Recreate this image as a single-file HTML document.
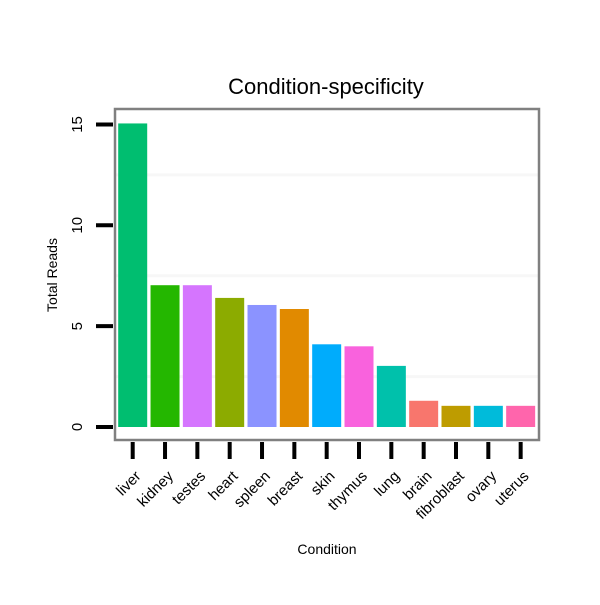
<!DOCTYPE html>
<html><head><meta charset="utf-8">
<style>
body{margin:0;background:#fff;width:600px;height:600px;overflow:hidden}
svg{font-family:"Liberation Sans",sans-serif}
</style></head>
<body>
<svg id="chart" width="600" height="600">
<text x="326" y="94" text-anchor="middle" font-size="22">Condition-specificity</text>
<g id="grid"></g>
<g id="bars"></g>
<rect x="115" y="109" width="424" height="331" fill="none" stroke="#808080" stroke-width="2.5"/>
<g id="yaxis"></g>
<g id="xaxis"></g>
<text x="327" y="554" text-anchor="middle" font-size="14">Condition</text>
<text transform="translate(57,275) rotate(-90)" text-anchor="middle" font-size="14">Total Reads</text>
</svg>
<script>
const categories=["liver","kidney","testes","heart","spleen","breast","skin","thymus","lung","brain","fibroblast","ovary","uterus"];
const values=[15.05,7.03,7.03,6.4,6.05,5.85,4.1,4.0,3.03,1.3,1.05,1.05,1.05];
const colors=["#00BE70","#24B700","#D575FE","#8CAB00","#8B93FF","#E18A00","#00ACFC","#F962DD","#00C1AB","#F8766D","#BE9C00","#00BBDA","#FF65AC"];
const yTicks=[0,5,10,15];
const yMinor=[2.5,7.5,12.5];
const NS="http://www.w3.org/2000/svg";
function y(v){return 427-v*20.17;}
function x(i){return 132.7+i*32.33;}
const grid=document.getElementById('grid'),bars=document.getElementById('bars'),ya=document.getElementById('yaxis'),xa=document.getElementById('xaxis');
yMinor.forEach(v=>{const l=document.createElementNS(NS,'line');


l.setAttribute('x1',116);l.setAttribute('x2',538);l.setAttribute('y1',y(v));l.setAttribute('y2',y(v));l.setAttribute('stroke','#f7f7f7');l.setAttribute('stroke-width',3);grid.appendChild(l);});
categories.forEach((c,i)=>{
const r=document.createElementNS(NS,'rect');


r.setAttribute('x',x(i)-14.5);r.setAttribute('width',29);r.setAttribute('y',y(values[i]));r.setAttribute('height',y(0)-y(values[i]));r.setAttribute('fill',colors[i]);bars.appendChild(r);
const t=document.createElementNS(NS,'line');


t.setAttribute('x1',x(i));t.setAttribute('x2',x(i));t.setAttribute('y1',442);t.setAttribute('y2',459);t.setAttribute('stroke','#000');t.setAttribute('stroke-width',4);xa.appendChild(t);
const tx=document.createElementNS(NS,'text');


tx.setAttribute('text-anchor','end');tx.setAttribute('font-size','15');
tx.setAttribute('transform','translate('+(x(i)+9)+',477) rotate(-45)');tx.textContent=c;xa.appendChild(tx);
});
yTicks.forEach(v=>{
const t=document.createElementNS(NS,'line');


t.setAttribute('x1',96);t.setAttribute('x2',113);t.setAttribute('y1',y(v));t.setAttribute('y2',y(v));t.setAttribute('stroke','#000');t.setAttribute('stroke-width',4);ya.appendChild(t);
const tx=document.createElementNS(NS,'text');


tx.setAttribute('text-anchor','middle');tx.setAttribute('font-size','15');
tx.setAttribute('transform','translate(82,'+y(v)+') rotate(-90)');tx.textContent=v;ya.appendChild(tx);
});
</script>
</body></html>
